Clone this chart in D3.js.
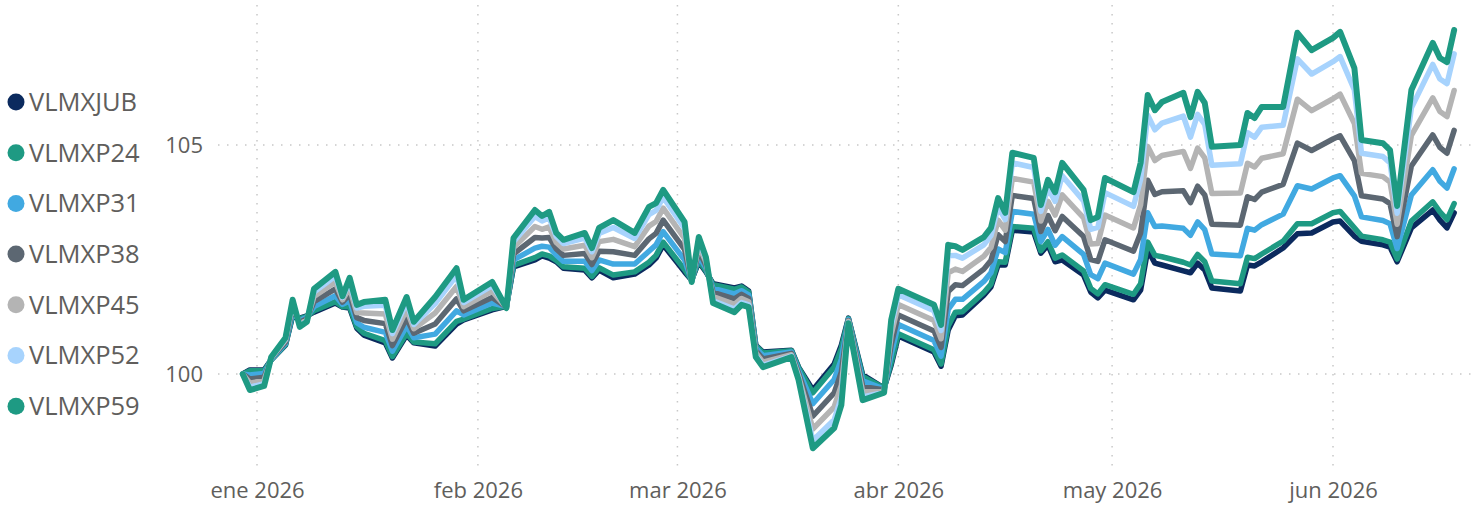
<!DOCTYPE html>
<html>
<head>
<meta charset="utf-8">
<script src="https://cdn.jsdelivr.net/npm/d3@7"></script>
<style>
  body { margin: 0; background: #fff; }
  text { font-family: "Segoe UI", "Open Sans", sans-serif; fill: #605E5C; }
</style>
</head>
<body>
<script>
var svgWidth = 1477;
var svgHeight = 506;

// series names (legend order) and colours
var seriesNames = ["VLMXJUB", "VLMXP24", "VLMXP31", "VLMXP38", "VLMXP45", "VLMXP52", "VLMXP59"];
var seriesColors = ["#0B2A5E", "#1E9A83", "#41A9E1", "#5C6772", "#B4B4B4", "#A7D3FD", "#1E9A83"];

var dates = ["2025-12-30","2025-12-31","2026-01-02","2026-01-03","2026-01-05","2026-01-06","2026-01-07","2026-01-08","2026-01-09","2026-01-12","2026-01-13","2026-01-14","2026-01-15","2026-01-16","2026-01-19","2026-01-20","2026-01-22","2026-01-23","2026-01-26","2026-01-29","2026-01-30",
  "2026-02-03","2026-02-05","2026-02-06","2026-02-09","2026-02-10","2026-02-11","2026-02-12","2026-02-13","2026-02-16","2026-02-17","2026-02-18","2026-02-20","2026-02-23","2026-02-25","2026-02-26","2026-02-27",
  "2026-03-02","2026-03-03","2026-03-04","2026-03-05","2026-03-06","2026-03-09","2026-03-10","2026-03-11","2026-03-12","2026-03-13","2026-03-17","2026-03-18","2026-03-20","2026-03-23","2026-03-24","2026-03-25","2026-03-27","2026-03-30","2026-03-31",
  "2026-04-01","2026-04-06","2026-04-07","2026-04-08","2026-04-09","2026-04-10","2026-04-13","2026-04-14","2026-04-15","2026-04-16","2026-04-17","2026-04-20","2026-04-21","2026-04-22","2026-04-23","2026-04-24","2026-04-27","2026-04-28","2026-04-29","2026-04-30",
  "2026-05-04","2026-05-05","2026-05-06","2026-05-07","2026-05-08","2026-05-11","2026-05-12","2026-05-13","2026-05-14","2026-05-15","2026-05-19","2026-05-20","2026-05-21","2026-05-22","2026-05-25","2026-05-27","2026-05-29",
  "2026-06-01","2026-06-02","2026-06-04","2026-06-05","2026-06-08","2026-06-09","2026-06-10","2026-06-12","2026-06-15","2026-06-16","2026-06-17","2026-06-18"];

var jub = [100.00,100.09,100.09,100.31,100.63,101.27,101.22,101.27,101.35,101.55,101.46,101.44,101.00,100.85,100.68,100.35,100.85,100.68,100.61,101.09,101.18,101.40,101.48,102.34,102.49,102.58,102.53,102.45,102.31,102.27,102.10,102.27,102.10,102.18,102.38,102.53,102.82,102.23,102.05,102.45,102.23,101.97,101.88,101.92,101.81,100.63,100.48,100.52,100.15,99.65,100.22,100.63,101.22,99.98,99.69,100.20,100.83,100.48,100.17,100.96,101.27,101.29,101.72,101.90,102.38,102.38,103.14,103.10,102.64,102.82,102.45,102.49,102.16,101.79,101.66,101.83,101.62,101.83,102.71,102.42,102.38,102.25,102.21,102.42,102.27,101.88,101.81,102.38,102.36,102.45,102.75,103.06,103.08,103.32,103.34,103.01,102.90,102.82,102.77,102.45,103.19,103.58,103.36,103.19,103.52];
var p24 = [100.00,100.07,100.07,100.31,100.64,101.29,101.21,101.26,101.38,101.58,101.47,101.47,101.03,100.89,100.73,100.38,100.89,100.70,100.66,101.15,101.20,101.43,101.48,102.37,102.54,102.62,102.58,102.48,102.34,102.31,102.13,102.32,102.16,102.23,102.44,102.59,102.88,102.28,102.05,102.48,102.25,101.95,101.85,101.90,101.79,100.62,100.46,100.51,100.14,99.59,100.15,100.56,101.21,99.95,99.69,100.25,100.88,100.53,100.22,101.05,101.35,101.36,101.78,101.96,102.45,102.44,103.22,103.18,102.69,102.89,102.53,102.60,102.25,101.87,101.75,101.95,101.74,101.97,102.88,102.59,102.56,102.44,102.38,102.61,102.45,102.03,101.97,102.55,102.52,102.62,102.90,103.28,103.28,103.52,103.55,103.19,103.01,102.93,102.88,102.51,103.34,103.76,103.54,103.37,103.72];
var p31 = [100.00,99.98,100.01,100.32,100.67,101.35,101.17,101.24,101.47,101.71,101.52,101.60,101.12,101.02,100.91,100.50,101.05,100.79,100.87,101.38,101.29,101.55,101.47,102.49,102.75,102.79,102.77,102.60,102.46,102.46,102.26,102.49,102.40,102.40,102.68,102.82,103.11,102.49,102.04,102.58,102.31,101.87,101.75,101.82,101.73,100.57,100.40,100.48,100.08,99.35,99.88,100.32,101.19,99.85,99.67,100.44,101.08,100.73,100.39,101.41,101.63,101.63,102.02,102.21,102.73,102.65,103.55,103.49,102.89,103.16,102.81,103.00,102.61,102.17,102.08,102.42,102.18,102.50,103.52,103.22,103.23,103.18,103.03,103.32,103.15,102.62,102.58,103.18,103.14,103.26,103.49,104.11,104.04,104.28,104.33,103.89,103.43,103.35,103.28,102.74,103.91,104.46,104.21,104.06,104.48];
var p38 = [100.00,99.89,99.93,100.34,100.70,101.43,101.13,101.21,101.58,101.86,101.57,101.74,101.23,101.17,101.10,100.62,101.22,100.89,101.09,101.64,101.38,101.67,101.46,102.62,102.98,102.97,102.98,102.73,102.59,102.63,102.39,102.68,102.67,102.59,102.95,103.07,103.36,102.72,102.03,102.69,102.37,101.78,101.64,101.74,101.65,100.51,100.33,100.45,100.02,99.08,99.59,100.04,101.17,99.73,99.65,100.64,101.29,100.94,100.58,101.80,101.95,101.93,102.29,102.48,103.04,102.89,103.90,103.83,103.11,103.46,103.13,103.44,103.00,102.50,102.46,102.93,102.68,103.08,104.23,103.92,103.98,104.00,103.74,104.10,103.91,103.27,103.25,103.87,103.81,103.97,104.14,105.04,104.88,105.13,105.20,104.66,103.89,103.82,103.72,103.00,104.54,105.22,104.95,104.82,105.32];
var p45 = [100.00,99.80,99.86,100.35,100.74,101.50,101.09,101.18,101.69,102.01,101.62,101.88,101.34,101.33,101.31,100.76,101.41,100.99,101.33,101.91,101.47,101.81,101.45,102.76,103.22,103.16,103.21,102.87,102.73,102.81,102.54,102.89,102.94,102.78,103.23,103.33,103.62,102.96,102.02,102.81,102.44,101.69,101.52,101.65,101.58,100.46,100.26,100.42,99.96,98.80,99.28,99.75,101.15,99.61,99.62,100.86,101.52,101.17,100.77,102.21,102.29,102.24,102.57,102.76,103.36,103.14,104.27,104.19,103.34,103.77,103.47,103.91,103.41,102.84,102.85,103.47,103.19,103.69,104.97,104.66,104.77,104.86,104.49,104.93,104.72,103.94,103.95,104.60,104.52,104.71,104.81,106.00,105.75,106.01,106.11,105.47,104.38,104.31,104.19,103.27,105.21,106.03,105.73,105.62,106.19];
var p52 = [100.00,99.71,99.79,100.36,100.77,101.57,101.05,101.16,101.79,102.14,101.67,102.01,101.44,101.48,101.50,100.88,101.57,101.08,101.54,102.15,101.56,101.93,101.45,102.89,103.44,103.34,103.41,103.00,102.85,102.97,102.67,103.07,103.20,102.96,103.48,103.57,103.86,103.18,102.02,102.92,102.51,101.60,101.42,101.56,101.51,100.40,100.19,100.39,99.91,98.55,99.00,99.49,101.12,99.50,99.60,101.05,101.73,101.38,100.95,102.58,102.59,102.53,102.82,103.02,103.65,103.37,104.61,104.51,103.55,104.06,103.77,104.33,103.78,103.16,103.20,103.96,103.66,104.25,105.65,105.33,105.48,105.63,105.17,105.67,105.45,104.56,104.59,105.27,105.17,105.39,105.43,106.88,106.55,106.82,106.93,106.20,104.82,104.75,104.61,103.51,105.81,106.76,106.44,106.34,106.99];
var p59 = [100.00,99.65,99.74,100.37,100.79,101.62,101.03,101.14,101.86,102.23,101.70,102.10,101.51,101.57,101.62,100.96,101.68,101.14,101.68,102.31,101.62,102.01,101.44,102.97,103.58,103.45,103.54,103.08,102.93,103.08,102.75,103.19,103.36,103.08,103.65,103.73,104.02,103.32,102.01,102.99,102.55,101.55,101.35,101.51,101.46,100.37,100.15,100.37,99.87,98.38,98.82,99.32,101.11,99.43,99.59,101.18,101.86,101.51,101.07,102.82,102.79,102.71,102.99,103.19,103.84,103.52,104.83,104.72,103.69,104.24,103.97,104.61,104.02,103.36,103.43,104.28,103.97,104.61,106.09,105.76,105.94,106.14,105.61,106.16,105.92,104.96,105.00,105.70,105.59,105.83,105.83,107.45,107.07,107.34,107.47,106.68,105.11,105.04,104.89,103.67,106.20,107.23,106.90,106.81,107.51];

var yTicks = [100, 105];
var xTickDates = ["2026-01-01", "2026-02-01", "2026-03-01", "2026-04-01", "2026-05-01", "2026-06-01"];
var xTickLabels = ["ene 2026", "feb 2026", "mar 2026", "abr 2026", "may 2026", "jun 2026"];

var parseDate = d3.utcParse("%Y-%m-%d");
var allValues = [jub, p24, p31, p38, p45, p52, p59];

var series = seriesNames.map(function(name, i) {
  return {
    name: name,
    color: seriesColors[i],
    values: dates.map(function(d, j) { return { date: parseDate(d), value: allValues[i][j] }; })
  };
});

var svg = d3.select("body")
  .append("svg")
  .attr("width", svgWidth)
  .attr("height", svgHeight);

// scales: month starts land on the vertical grid lines
var x = d3.scaleUtc()
  .domain([parseDate("2026-01-01"), parseDate("2026-06-01")])
  .range([257, 1333]);

var y = d3.scaleLinear()
  .domain([100, 105])
  .range([374, 145]);

// dotted grid
var grid = svg.append("g");
grid.selectAll(".vgrid")
  .data(xTickDates)
  .enter()
  .append("line")
  .attr("x1", d => x(parseDate(d)))
  .attr("x2", d => x(parseDate(d)))
  .attr("y1", 5)
  .attr("y2", 467)
  .attr("stroke", "#C8C8C8")
  .attr("stroke-width", 1.5)
  .attr("stroke-dasharray", "1.5,7.5");

grid.selectAll(".hgrid")
  .data(yTicks)
  .enter()
  .append("line")
  .attr("x1", 218)
  .attr("x2", 1472)
  .attr("y1", d => y(d))
  .attr("y2", d => y(d))
  .attr("stroke", "#C8C8C8")
  .attr("stroke-width", 1.5)
  .attr("stroke-dasharray", "1.5,7.5");

// axis labels
var xAxis = d3.axisBottom(x)
  .tickValues(xTickDates.map(parseDate))
  .tickFormat((d, i) => xTickLabels[i])
  .tickSize(0)
  .tickPadding(0);

svg.append("g")
  .attr("transform", "translate(0, 482)")
  .call(xAxis)
  .call(g => g.select(".domain").remove())
  .selectAll("text")
  .style("font-size", "22px")
  .attr("fill", "#605E5C");

var yAxis = d3.axisLeft(y)
  .tickValues(yTicks)
  .tickFormat(d3.format("d"))
  .tickSize(0)
  .tickPadding(0);

svg.append("g")
  .attr("transform", "translate(203, 0)")
  .call(yAxis)
  .call(g => g.select(".domain").remove())
  .selectAll("text")
  .style("font-size", "22px")
  .attr("fill", "#605E5C");

// lines
var line = d3.line()
  .x(d => x(d.date))
  .y(d => y(d.value));

svg.append("g")
  .selectAll("path")
  .data(series)
  .enter()
  .append("path")
  .attr("fill", "none")
  .attr("stroke", d => d.color)
  .attr("stroke-width", (d, i) => i == 6 ? 6 : 5.5)
  .attr("stroke-linejoin", "round")
  .attr("stroke-linecap", "round")
  .attr("d", d => line(d.values));

// legend
var legend = svg.append("g")
  .selectAll("g")
  .data(series)
  .enter()
  .append("g")
  .attr("transform", (d, i) => `translate(0, ${102 + i * 50.7})`);

legend.append("circle")
  .attr("cx", 16)
  .attr("cy", 0)
  .attr("r", 8.5)
  .attr("fill", d => d.color);

legend.append("text")
  .attr("x", 29)
  .attr("y", 0)
  .attr("dy", "0.35em")
  .style("font-size", "25.5px")
  .text(d => d.name);
</script>
</body>
</html>
